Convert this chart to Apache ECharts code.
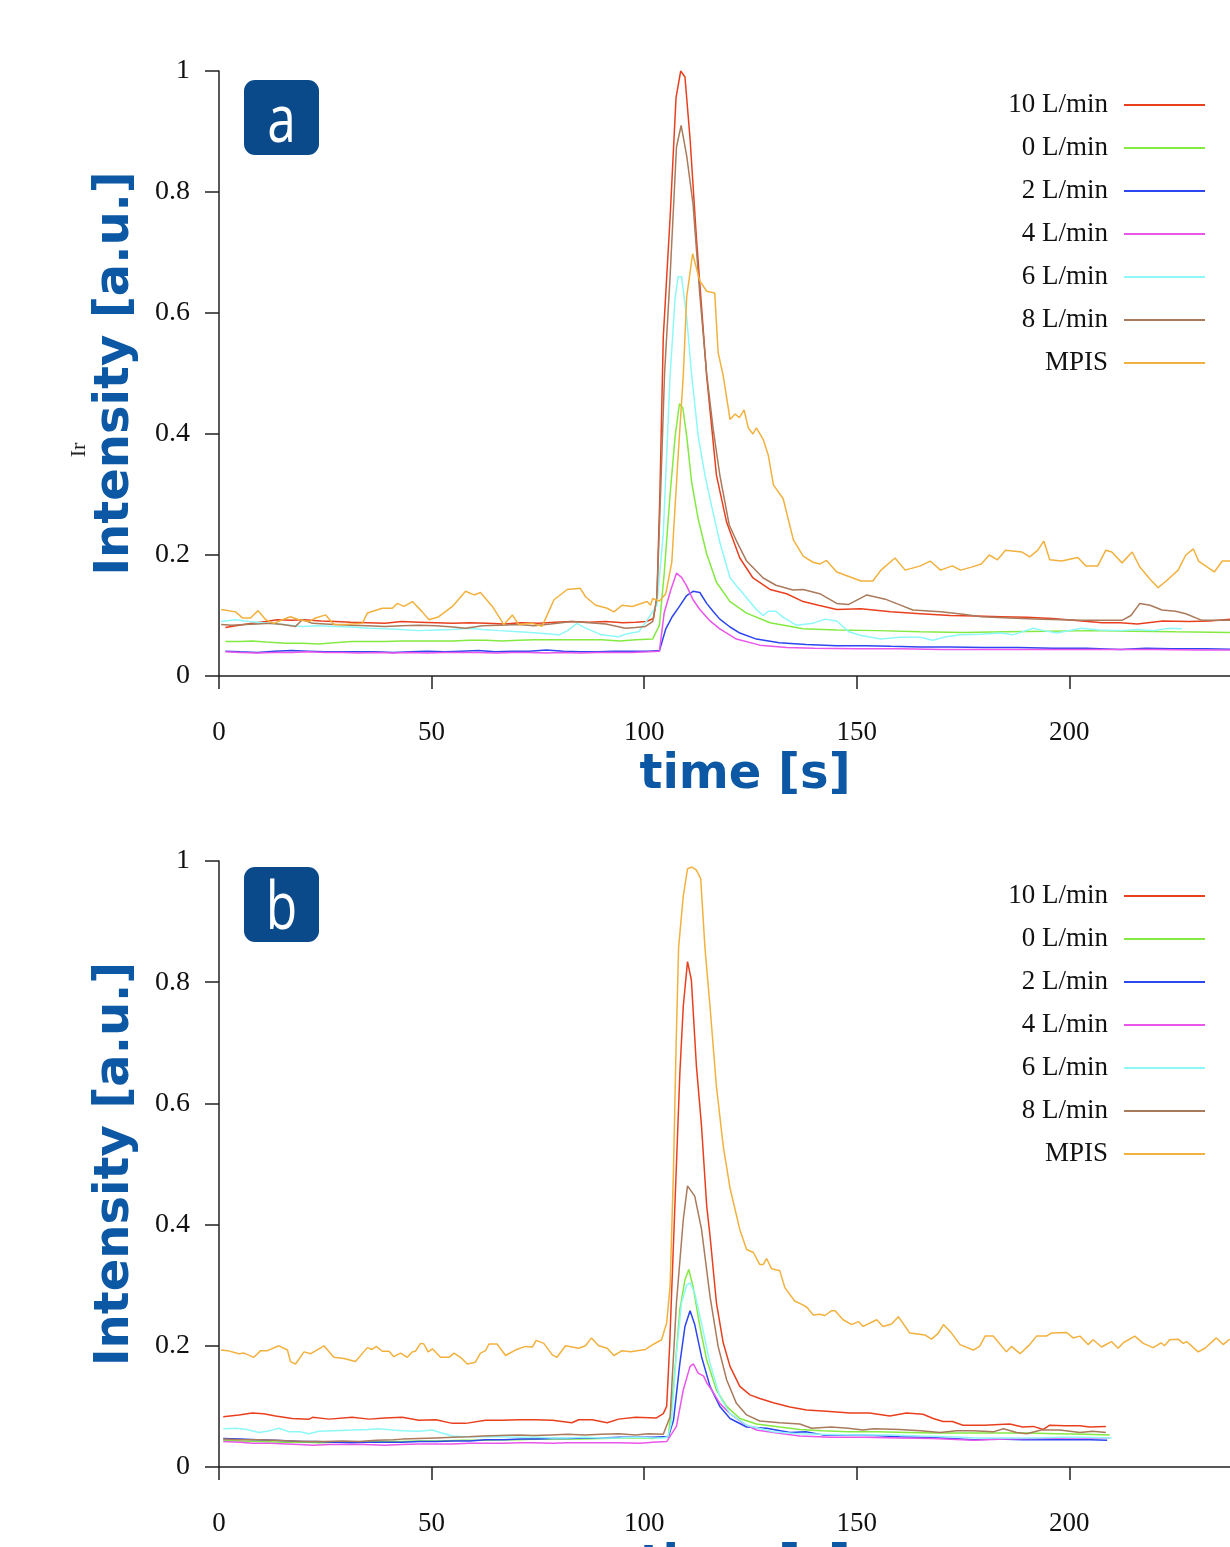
<!DOCTYPE html>
<html>
<head>
<meta charset="utf-8">
<title>Intensity vs time</title>
<script src="https://cdn.jsdelivr.net/npm/echarts@6/dist/echarts.min.js"></script>
<style>
  html, body { margin: 0; padding: 0; background: #fff; }
  #chart { width: 1230px; height: 1547px; }
</style>
</head>
<body>
<div id="chart"></div>
<script>
// legend names and tick values
var names = ['10 L/min', '0 L/min', '2 L/min', '4 L/min', '6 L/min', '8 L/min', 'MPIS'];
var xTicks = [0, 50, 100, 150, 200];
var yTicks = [0, 0.2, 0.4, 0.6, 0.8, 1];

// panel a, [time s, intensity]
var a10 = [[1.5,0.080],[4,0.083],[7.8,0.087],[11,0.09],[13.7,0.093],[17,0.092],[20,0.093],[24,0.091],[27.4,0.09],[31,0.089],[35,0.088],[39,0.087],[43,0.09],[47,0.089],[51,0.088],[55,0.087],[59,0.088],[63,0.087],[67,0.086],[71,0.088],[75,0.087],[79,0.089],[83,0.09],[87,0.089],[91,0.09],[95,0.088],[98,0.089],[100.5,0.09],[102.2,0.095],[103,0.13],[103.7,0.3],[104.5,0.56],[106.1,0.757],[107.5,0.956],[108.6,1.0],[109.6,0.99],[110.8,0.888],[112.3,0.724],[114.7,0.496],[117,0.332],[119.4,0.254],[122.5,0.195],[125.6,0.162],[129.6,0.143],[133.5,0.136],[137.4,0.123],[141,0.117],[145.3,0.11],[151,0.111],[158,0.106],[165,0.103],[172,0.1],[178,0.099],[184,0.098],[190,0.097],[196,0.095],[203,0.091],[207.7,0.088],[212,0.088],[216,0.086],[222,0.091],[228,0.09],[233,0.091],[238,0.094]];
var a0 = [[1.5,0.057],[5,0.057],[7.8,0.058],[11,0.056],[15.7,0.054],[19.6,0.054],[23.5,0.053],[27,0.055],[31.3,0.057],[35,0.057],[39,0.057],[43,0.058],[47,0.058],[51,0.058],[55,0.058],[58.8,0.059],[62.7,0.059],[66.6,0.058],[70.5,0.059],[74.4,0.06],[78.4,0.06],[82.3,0.06],[86.2,0.06],[90,0.06],[94.3,0.058],[98,0.06],[102,0.061],[103.6,0.084],[104.7,0.168],[106.1,0.3],[107.3,0.397],[108.3,0.45],[109.1,0.443],[110,0.397],[111.2,0.319],[112.7,0.26],[114.7,0.202],[117,0.155],[120.2,0.123],[124.1,0.104],[129.6,0.088],[137.4,0.078],[145.3,0.076],[155,0.075],[165,0.073],[175,0.072],[185,0.073],[195,0.074],[205,0.075],[215,0.074],[225,0.073],[238,0.072]];
var a2 = [[1.5,0.041],[5,0.04],[9,0.039],[13,0.041],[17,0.042],[21,0.041],[25,0.04],[29,0.04],[33,0.04],[37,0.04],[41,0.039],[45,0.04],[49,0.041],[53,0.04],[57,0.041],[61,0.042],[65,0.04],[69,0.041],[73,0.041],[77,0.043],[81,0.041],[85,0.04],[89,0.04],[93,0.041],[97,0.041],[101,0.041],[103.6,0.042],[105.1,0.078],[106.6,0.098],[108.1,0.113],[110,0.133],[111.5,0.14],[113.1,0.138],[114.7,0.12],[116.2,0.107],[117.8,0.094],[120.2,0.081],[122.5,0.071],[126.4,0.061],[131.8,0.055],[138.1,0.052],[145.3,0.05],[152,0.05],[158,0.049],[165,0.048],[172,0.048],[180,0.047],[188,0.047],[196,0.046],[204,0.046],[212,0.044],[218,0.046],[224,0.045],[232,0.045],[238,0.044]];
var a4 = [[1.5,0.04],[5,0.039],[9,0.038],[13,0.039],[17,0.039],[21,0.04],[25,0.039],[29,0.039],[33,0.038],[37,0.039],[41,0.038],[45,0.039],[49,0.038],[53,0.039],[57,0.039],[61,0.039],[65,0.038],[69,0.039],[73,0.039],[77,0.038],[81,0.039],[85,0.038],[89,0.039],[93,0.039],[97,0.039],[101,0.04],[103.6,0.041],[104.7,0.104],[106.3,0.143],[107.6,0.17],[108.8,0.163],[110,0.149],[111.5,0.126],[113.1,0.11],[115.5,0.091],[117.8,0.078],[121.7,0.061],[127.2,0.051],[133.5,0.047],[140,0.046],[150,0.045],[160,0.045],[170,0.044],[180,0.044],[190,0.044],[200,0.044],[210,0.044],[220,0.044],[230,0.043],[238,0.043]];
var a6 = [[0.5,0.09],[3.9,0.093],[7,0.09],[11.8,0.087],[15,0.085],[19.6,0.082],[23,0.083],[27.4,0.082],[31,0.081],[35.3,0.079],[39,0.078],[43,0.077],[47,0.075],[51,0.076],[55,0.077],[58.8,0.079],[62,0.077],[66,0.075],[70.5,0.073],[75,0.071],[80,0.068],[82,0.075],[84.2,0.087],[86,0.08],[90,0.068],[94,0.065],[96,0.07],[98.7,0.073],[100.6,0.091],[103,0.117],[104.5,0.235],[106.1,0.496],[107.3,0.626],[108,0.66],[108.8,0.66],[110,0.593],[111.2,0.496],[112.7,0.397],[114.3,0.332],[115.9,0.28],[117.8,0.221],[120.2,0.162],[123.3,0.136],[126.4,0.11],[128,0.1],[129.2,0.107],[131,0.107],[132.7,0.097],[135.8,0.084],[139.7,0.087],[142.5,0.094],[145.3,0.091],[148.2,0.073],[151,0.067],[155.7,0.061],[160,0.064],[165,0.064],[167.9,0.059],[171,0.065],[174.4,0.068],[179,0.069],[184,0.071],[186.7,0.068],[191.5,0.079],[194,0.075],[197.1,0.071],[202.8,0.079],[207,0.076],[212.2,0.075],[216,0.077],[219.8,0.075],[223.6,0.079],[226.5,0.078]];
var a8 = [[0.5,0.085],[3,0.084],[6,0.085],[9,0.086],[12,0.087],[15,0.085],[18,0.082],[19.6,0.093],[22,0.087],[25,0.086],[27.4,0.085],[31,0.084],[35,0.083],[39,0.082],[43,0.083],[47,0.084],[51,0.083],[55,0.081],[58,0.079],[62,0.083],[66,0.084],[70.5,0.085],[74,0.083],[78,0.086],[83,0.09],[87,0.088],[91,0.086],[95.6,0.079],[98,0.08],[100.3,0.082],[102,0.09],[103,0.13],[104,0.33],[104.8,0.5],[106.1,0.66],[107.6,0.874],[108.7,0.91],[110,0.86],[111.5,0.78],[113.1,0.63],[114.7,0.5],[116.2,0.41],[117.8,0.332],[120,0.25],[121.8,0.222],[124.1,0.19],[128,0.162],[131,0.15],[135,0.142],[137.4,0.143],[141.3,0.136],[145.3,0.12],[148,0.118],[152.4,0.134],[156.7,0.127],[160,0.118],[163.2,0.109],[169.8,0.106],[175,0.102],[179.3,0.098],[186,0.096],[193.5,0.094],[203,0.092],[212.4,0.092],[214.5,0.1],[216.6,0.12],[219,0.117],[221.8,0.109],[225,0.107],[227.4,0.103],[231.2,0.092],[238,0.092]];
var aMpis = [[0.5,0.11],[3.9,0.106],[5.5,0.096],[7.4,0.096],[9.2,0.108],[11,0.093],[12.9,0.087],[14.9,0.093],[16.8,0.098],[18.8,0.093],[21.2,0.09],[22.7,0.096],[25.1,0.101],[27,0.085],[29.8,0.085],[33.7,0.087],[34.9,0.104],[38.4,0.112],[40.8,0.112],[41.9,0.12],[43.5,0.115],[45.5,0.123],[47.8,0.106],[49.4,0.093],[51.7,0.098],[54.9,0.115],[58,0.14],[60,0.134],[61.5,0.138],[64.3,0.115],[67,0.085],[69,0.101],[70.5,0.085],[73.7,0.087],[76,0.082],[78.8,0.126],[81.9,0.143],[85,0.145],[86.2,0.131],[88.6,0.117],[91.3,0.112],[92.9,0.106],[94.8,0.117],[97.2,0.115],[100.7,0.123],[101.5,0.117],[102,0.128],[103.6,0.124],[105.1,0.136],[106.5,0.188],[108,0.365],[109.2,0.496],[110,0.626],[111.4,0.698],[113.1,0.653],[114.7,0.636],[116.6,0.633],[117.4,0.535],[118.6,0.496],[120.2,0.424],[121.4,0.433],[122.4,0.427],[123.5,0.44],[124.5,0.41],[125.6,0.4],[126.4,0.41],[128,0.391],[129.2,0.365],[130.4,0.316],[132.7,0.293],[135.1,0.225],[137.4,0.198],[139.7,0.188],[141.3,0.185],[142.9,0.191],[145.3,0.172],[148,0.165],[151,0.157],[153.8,0.157],[155.7,0.175],[159,0.195],[161.4,0.175],[165,0.182],[167.3,0.19],[169.7,0.175],[172.5,0.182],[174.4,0.175],[177,0.18],[179.3,0.185],[181.2,0.2],[183.1,0.192],[185,0.208],[188.8,0.205],[190.7,0.197],[192.6,0.208],[194,0.223],[195.4,0.192],[198.2,0.19],[202,0.196],[203.9,0.182],[206.7,0.182],[208.6,0.208],[210,0.205],[212.4,0.187],[214.8,0.205],[216.6,0.18],[219,0.16],[220.9,0.146],[222.8,0.157],[225.6,0.175],[227.4,0.2],[229.2,0.21],[230.4,0.19],[234.1,0.172],[236,0.19],[238,0.19]];

// panel b
var b10 = [[1,0.083],[4.7,0.086],[7.8,0.089],[10.5,0.088],[13.3,0.084],[17.2,0.08],[21.2,0.079],[22,0.082],[25.9,0.079],[31.3,0.082],[35.3,0.079],[39,0.081],[43.1,0.082],[47,0.077],[51,0.078],[54.9,0.072],[58,0.072],[62.7,0.077],[66.6,0.077],[70.5,0.078],[74.4,0.078],[78.4,0.077],[83,0.073],[84.6,0.078],[87.8,0.078],[91.3,0.073],[94,0.079],[98,0.082],[102.9,0.081],[104.5,0.088],[105.3,0.1],[106,0.2],[106.8,0.35],[107.6,0.5],[108.4,0.65],[109.2,0.76],[110.2,0.834],[111.1,0.804],[112.3,0.661],[113.5,0.562],[114.7,0.432],[115.5,0.381],[117,0.271],[118.6,0.205],[120.2,0.166],[122.5,0.133],[124.9,0.119],[127.2,0.113],[130.4,0.106],[134.3,0.099],[138.2,0.094],[142.9,0.092],[148.4,0.089],[153,0.089],[157.8,0.084],[161.7,0.089],[165.6,0.087],[168,0.08],[170.3,0.075],[172.5,0.075],[175,0.069],[180,0.069],[186,0.071],[189,0.066],[191.5,0.067],[193.9,0.062],[195.4,0.069],[199,0.068],[202.5,0.068],[204.8,0.066],[208.6,0.067]];
var b0 = [[1,0.044],[5,0.043],[10,0.042],[15,0.041],[20,0.041],[23.5,0.04],[28,0.041],[33,0.041],[38,0.042],[43,0.042],[47,0.043],[52,0.043],[57,0.044],[62,0.044],[67,0.045],[70.5,0.045],[75,0.046],[80,0.046],[85,0.046],[90,0.047],[95,0.048],[100,0.048],[102,0.047],[104.5,0.05],[105.7,0.05],[106.9,0.133],[108.4,0.26],[109.6,0.309],[110.5,0.326],[111.5,0.298],[113.1,0.232],[114.7,0.177],[117,0.127],[119.4,0.1],[122.5,0.08],[126.4,0.071],[131.9,0.066],[136.6,0.062],[142,0.06],[148,0.058],[155,0.058],[162,0.057],[169,0.056],[176,0.056],[183,0.056],[190,0.056],[197,0.055],[204,0.054],[209.5,0.053]];
var b2 = [[1,0.047],[5,0.046],[9,0.045],[13,0.044],[17,0.043],[19.6,0.042],[23,0.042],[27,0.041],[31.3,0.04],[35,0.041],[39,0.041],[43,0.041],[47,0.042],[51,0.042],[55,0.043],[59,0.043],[62.7,0.045],[67,0.045],[71,0.046],[75,0.046],[78.4,0.047],[82,0.047],[86,0.048],[90,0.048],[94,0.049],[98,0.049],[102,0.049],[104.5,0.05],[105.7,0.05],[106.9,0.077],[108.4,0.171],[109.6,0.232],[110.8,0.258],[111.9,0.235],[113.5,0.182],[115.5,0.133],[117.8,0.1],[120.2,0.08],[124.1,0.066],[128.8,0.064],[134.3,0.057],[138,0.058],[142,0.053],[148,0.053],[154,0.052],[160,0.05],[166,0.049],[172,0.047],[177.5,0.045],[183,0.046],[189,0.045],[195,0.045],[200,0.045],[205,0.045],[208.9,0.044]];
var b4 = [[1,0.042],[5,0.041],[7.8,0.039],[12,0.039],[16,0.038],[19,0.037],[22,0.036],[26,0.037],[30,0.037],[34,0.037],[39,0.036],[43,0.037],[47,0.038],[51,0.038],[55,0.038],[58.8,0.039],[63,0.039],[67,0.039],[70.5,0.04],[74,0.04],[78.4,0.039],[82,0.04],[86,0.04],[90,0.04],[94,0.04],[99,0.039],[102,0.041],[105.3,0.042],[107.6,0.067],[109.2,0.127],[110.8,0.166],[111.6,0.17],[112.7,0.155],[114,0.15],[114.7,0.139],[115.9,0.127],[117.8,0.105],[120.2,0.088],[123.3,0.072],[126.4,0.061],[130.4,0.057],[136.6,0.051],[144,0.049],[152,0.049],[160,0.048],[168,0.047],[177.5,0.044],[185,0.046],[192,0.047],[200,0.048],[206,0.048],[209.5,0.048]];
var b6 = [[1,0.063],[4,0.064],[6.5,0.062],[9.4,0.057],[12,0.06],[14.1,0.064],[16.5,0.058],[19,0.058],[21.2,0.055],[23.5,0.059],[27,0.06],[31.3,0.061],[35,0.062],[37.6,0.063],[41,0.061],[43.1,0.06],[47,0.059],[50.2,0.061],[52,0.057],[54.9,0.051],[58,0.05],[62.7,0.05],[66,0.05],[70.5,0.049],[75,0.049],[78.4,0.048],[82,0.048],[86,0.049],[90,0.048],[94,0.048],[98,0.049],[102,0.048],[104.5,0.048],[105.6,0.05],[106.4,0.072],[107.6,0.188],[108.8,0.271],[110,0.3],[110.8,0.304],[111.9,0.287],[113.5,0.237],[115.5,0.171],[117.8,0.116],[120.2,0.088],[124.1,0.069],[130.4,0.058],[136,0.055],[142,0.054],[150,0.053],[158,0.053],[165,0.051],[172,0.05],[178,0.048],[185,0.048],[192,0.048],[198,0.049],[204,0.049],[210,0.048]];
var b8 = [[1,0.046],[5,0.045],[9,0.045],[13,0.044],[17,0.043],[21,0.042],[25,0.042],[29,0.043],[33,0.042],[37,0.044],[41,0.045],[43.1,0.046],[47,0.047],[51,0.048],[55,0.049],[58.8,0.05],[62,0.051],[66,0.052],[70.5,0.053],[74,0.052],[78,0.053],[82,0.054],[86,0.053],[90,0.054],[94,0.055],[98,0.053],[101,0.055],[104.5,0.054],[106.1,0.083],[107.6,0.271],[109.2,0.408],[110.2,0.464],[111.9,0.447],[113.5,0.392],[115.5,0.281],[117.4,0.199],[119.4,0.144],[121.7,0.105],[124.1,0.086],[127.2,0.076],[131.9,0.073],[136.6,0.071],[139.4,0.064],[144,0.066],[148,0.064],[151.5,0.061],[154,0.063],[160,0.062],[165,0.06],[169.6,0.057],[173.5,0.06],[177.4,0.06],[182.1,0.058],[184.5,0.063],[187.6,0.057],[190,0.055],[193.4,0.061],[197.8,0.061],[202.5,0.057],[205.5,0.059],[208.6,0.057]];
var bMpis = [[0.5,0.193],[2,0.192],[4.7,0.187],[5.9,0.188],[8.2,0.181],[9.8,0.192],[11.4,0.192],[14.1,0.2],[16.1,0.193],[16.8,0.174],[18,0.17],[20,0.19],[21.6,0.187],[24.7,0.2],[27,0.181],[29.4,0.179],[32.1,0.174],[34.9,0.197],[36,0.194],[37,0.199],[38.4,0.191],[40,0.191],[41.1,0.182],[42.7,0.188],[44.3,0.181],[45.5,0.19],[46.2,0.191],[47.4,0.204],[48.2,0.203],[49.2,0.19],[50.2,0.195],[52.1,0.181],[54.1,0.181],[55.3,0.188],[56.8,0.181],[58.4,0.17],[60.3,0.173],[61.5,0.188],[62.7,0.192],[63.5,0.203],[65.4,0.203],[67.4,0.184],[69.7,0.193],[72.1,0.199],[73.7,0.198],[74.6,0.209],[76.4,0.204],[78.4,0.185],[79.5,0.181],[81.5,0.2],[84.6,0.196],[86.2,0.2],[87.6,0.213],[89.3,0.2],[91.3,0.196],[92.9,0.184],[94.8,0.192],[96.8,0.19],[100.3,0.194],[102.3,0.203],[104.1,0.21],[105.3,0.238],[106.1,0.298],[106.9,0.49],[107.5,0.69],[108.1,0.857],[109.2,0.942],[110.2,0.987],[111.2,0.99],[112.3,0.985],[113.3,0.971],[114.3,0.857],[115.5,0.759],[117,0.628],[118.6,0.53],[120.2,0.46],[122.5,0.392],[124.1,0.359],[125.7,0.354],[127.2,0.334],[128,0.334],[128.8,0.344],[130,0.327],[131.9,0.324],[133.1,0.296],[135.4,0.274],[137.2,0.268],[138.2,0.264],[139.8,0.251],[141.3,0.252],[142.5,0.25],[144.1,0.258],[144.9,0.258],[146.8,0.243],[148.8,0.235],[150.4,0.24],[151.5,0.232],[154.7,0.243],[156.2,0.232],[158.2,0.236],[159.8,0.248],[162.5,0.221],[166,0.218],[167.6,0.211],[169.2,0.221],[170.4,0.235],[172.3,0.221],[174.3,0.202],[177.4,0.193],[178.9,0.199],[180.2,0.216],[182.1,0.216],[185.2,0.19],[186.4,0.199],[188.4,0.187],[190.7,0.202],[192.3,0.216],[194.6,0.216],[195.8,0.221],[199.4,0.222],[200.9,0.213],[202.5,0.216],[204.4,0.202],[205.6,0.21],[207.6,0.198],[209.9,0.207],[211.5,0.196],[212.7,0.205],[215.4,0.216],[217.4,0.204],[219.7,0.197],[221.6,0.205],[222.4,0.2],[223.6,0.21],[225.6,0.211],[226.8,0.204],[227.6,0.207],[230.3,0.19],[231.9,0.196],[234.6,0.213],[236.2,0.202],[237.7,0.211]];

var colors = ['#e8401f', '#84ea42', '#2c46f0', '#ea55ea', '#8ef8f8', '#a97a5c', '#f2b13e'];
var panelA = [a10, a0, a2, a4, a6, a8, aMpis];
var panelB = [b10, b0, b2, b4, b6, b8, bMpis];

var titleBlue = '#0c58a4';
var serif = '"Liberation Serif", "Times New Roman", serif';

function makeX(idx) {
    return {
        type: 'value',
        gridIndex: idx,
        min: 0,
        max: 237.8,
        name: 'time [s]',
        nameLocation: 'middle',
        nameGap: 76,
        nameTextStyle: {
            fontFamily: 'DejaVu Sans',
            fontWeight: 'bold',
            fontSize: 48,
            color: titleBlue,
            padding: [0, 0, 0, 41]
        },
        axisLine: { lineStyle: { color: '#222', width: 1.5 } },
        axisTick: { inside: false, length: 13, customValues: xTicks, lineStyle: { color: '#222', width: 1.5 } },
        axisLabel: { customValues: xTicks, margin: 43, fontFamily: serif, fontSize: 27, color: '#111' },
        splitLine: { show: false }
    };
}

function makeY(idx) {
    return {
        type: 'value',
        gridIndex: idx,
        min: 0,
        max: 1,
        name: 'Intensity [a.u.]',
        nameLocation: 'middle',
        nameGap: 79,
        nameTextStyle: {
            fontFamily: 'DejaVu Sans',
            fontWeight: 'bold',
            fontSize: 48,
            color: titleBlue
        },
        axisLine: { show: true, lineStyle: { color: '#222', width: 1.5 } },
        axisTick: { show: true, inside: false, length: 14, customValues: yTicks, lineStyle: { color: '#222', width: 1.5 } },
        axisLabel: { customValues: yTicks, margin: 29, fontFamily: serif, fontSize: 28, color: '#111' },
        splitLine: { show: false }
    };
}

function makeLegend(top) {
    return {
        data: names,
        orient: 'vertical',
        right: 25,
        top: top,
        padding: 0,
        align: 'right',
        icon: 'rect',
        itemWidth: 81,
        itemHeight: 2,
        itemGap: 15,
        selectedMode: false,
        textStyle: {
            fontFamily: serif,
            fontSize: 27,
            lineHeight: 28,
            color: '#111',
            padding: [0, 11, 0, 0]
        }
    };
}

function badge(letter, top) {
    return [
        {
            type: 'rect',
            left: 244,
            top: top,
            shape: { width: 75, height: 75, r: 11 },
            style: { fill: '#0a4a8a' }
        },
        {
            type: 'text',
            x: 281.5,
            y: top + 43,
            scaleX: 0.78,
            style: {
                text: letter,
                fill: '#fff',
                font: '66px "Open Sans"',
                textAlign: 'center',
                textVerticalAlign: 'middle'
            }
        }
    ];
}

var series = [];
[panelA, panelB].forEach(function (panel, g) {
    panel.forEach(function (pts, i) {
        series.push({
            name: names[i],
            type: 'line',
            xAxisIndex: g,
            yAxisIndex: g,
            data: pts,
            showSymbol: false,
            symbol: 'none',
            clip: true,
            lineStyle: { width: 1.5, color: colors[i] },
            itemStyle: { color: colors[i] }
        });
    });
});

var chart = echarts.init(document.getElementById('chart'), null, { renderer: 'canvas' });
chart.setOption({
    animation: false,
    backgroundColor: '#fff',
    grid: [
        { left: 219, top: 71, width: 1011, height: 605, outerBoundsMode: 'none', containLabel: false },
        { left: 219, top: 861, width: 1011, height: 606, outerBoundsMode: 'none', containLabel: false }
    ],
    xAxis: [makeX(0), makeX(1)],
    yAxis: [makeY(0), makeY(1)],
    legend: [makeLegend(91), makeLegend(882)],
    graphic: badge('a', 80).concat(badge('b', 867)).concat([
        {
            type: 'text',
            x: 79,
            y: 450,
            rotation: Math.PI / 2,
            style: { text: 'Ir', fill: '#222', font: '22px ' + serif, textAlign: 'center', textVerticalAlign: 'middle' }
        }
    ]),
    series: series
});

window.addEventListener('resize', function () {
    chart.resize();
});
</script>
</body>
</html>
